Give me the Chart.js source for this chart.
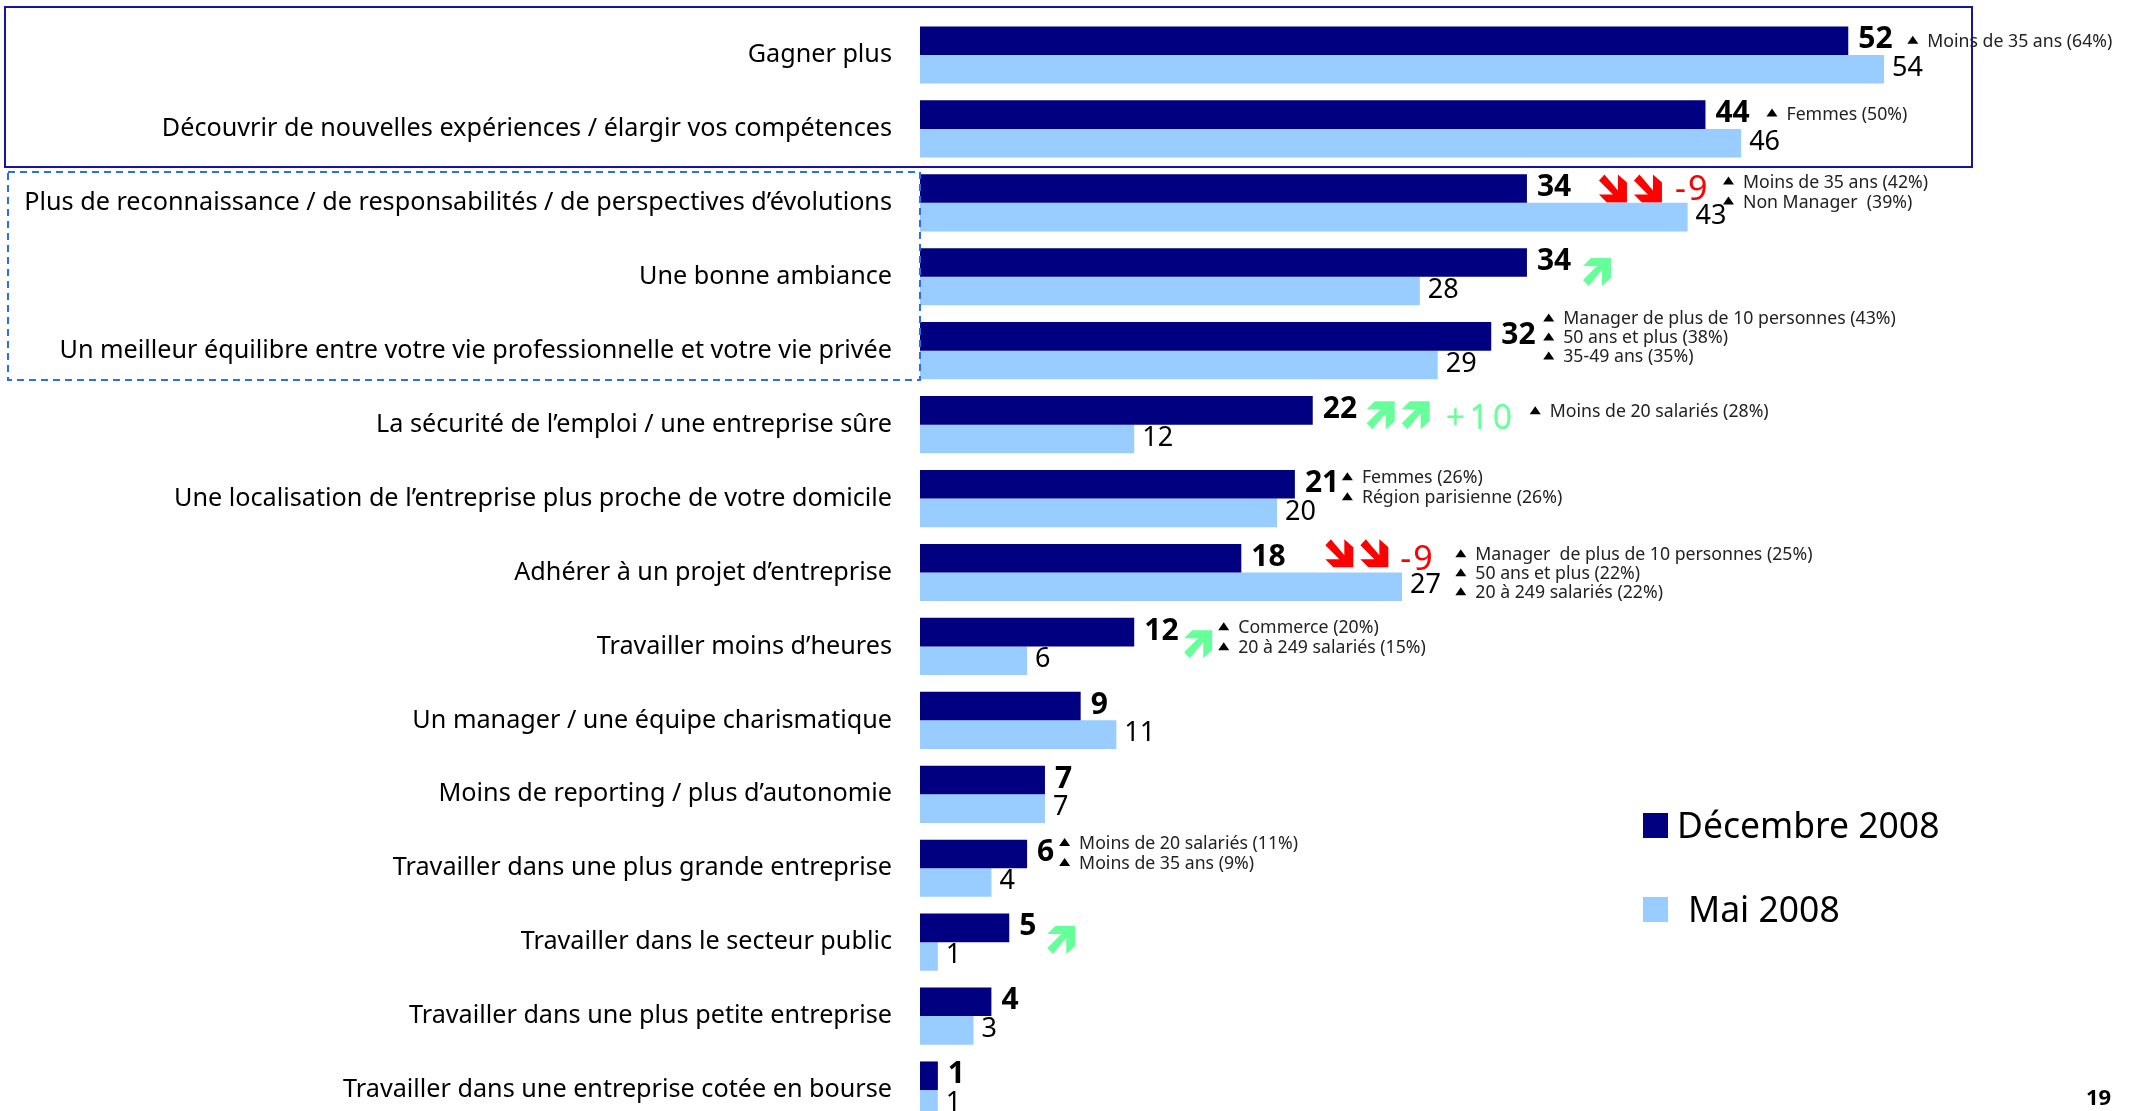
<!DOCTYPE html>
<html><head><meta charset="utf-8">
<style>html,body{margin:0;padding:0;background:#fff;overflow:hidden;width:2138px;height:1111px}
#w{position:relative;width:2138px;height:1111px;overflow:hidden}canvas{display:block}</style>
<script src="https://cdn.jsdelivr.net/npm/chart.js@4"></script></head>
<body><div id="w"><canvas id="c" width="2138" height="1127" style="width:2138px;height:1127px"></canvas></div>
<script>
const categories=["Gagner plus","Découvrir de nouvelles expériences / élargir vos compétences","Plus de reconnaissance / de responsabilités / de perspectives d’évolutions","Une bonne ambiance","Un meilleur équilibre entre votre vie professionnelle et votre vie privée","La sécurité de l’emploi / une entreprise sûre","Une localisation de l’entreprise plus proche de votre domicile","Adhérer à un projet d’entreprise","Travailler moins d’heures","Un manager / une équipe charismatique","Moins de reporting / plus d’autonomie","Travailler dans une plus grande entreprise","Travailler dans le secteur public","Travailler dans une plus petite entreprise","Travailler dans une entreprise cotée en bourse"];
const dec2008=[52,44,34,34,32,22,21,18,12,9,7,6,5,4,1];
const mai2008=[54,46,43,28,29,12,20,27,6,11,7,4,1,3,1];
const seriesNames=["Décembre 2008","Mai 2008"];
const noteRows=[0,1,2,4,5,6,7,8,11];
const noteTexts=[["Moins de 35 ans (64%)"],["Femmes (50%)"],["Moins de 35 ans (42%)","Non Manager  (39%)"],["Manager de plus de 10 personnes (43%)","50 ans et plus (38%)","35-49 ans (35%)"],["Moins de 20 salariés (28%)"],["Femmes (26%)","Région parisienne (26%)"],["Manager  de plus de 10 personnes (25%)","50 ans et plus (22%)","20 à 249 salariés (22%)"],["Commerce (20%)","20 à 249 salariés (15%)"],["Moins de 20 salariés (11%)","Moins de 35 ans (9%)"]];
const trendRows=[2,3,5,7,8,12];
const trendDirections=[-1,1,1,-1,1,1];
const trendCounts=[2,1,2,2,1,1];
const trendLabels=["-9","","+10","-9","",""];
const pageNumber="19";
// styling: offsets measured from the end of the navy bar / its centre line
const noteDx=[59,61,196,52,217,47,214,84,32],noteDy=[1,0,4,2,2,4,16,6,0];
const trendDx=[72,56,54,84,50,38],trendDy=[0,9.5,5,-5,12,12],trendLabelDx=[148,0,133,159,0,0];
const FONT='"Noto Sans"';
const NAVY='#000080',SKY='#99CCFF',GREEN='#66FF99',RED='#FF0000';
const ARROW=[[8,0],[28,0],[28,20],[19,28],[19,12],[5.5,28],[0,22],[14,8],[0,8]];
const overlay={id:'overlay',
 beforeDatasetsDraw(ch){
  const c=ch.ctx,m=ch.getDatasetMeta(0).data;
  c.save();
  trendRows.forEach((r,i)=>{
   const d=trendDirections[i],col=d>0?GREEN:RED;
   const x0=m[r].x+trendDx[i],yc=m[r].y+trendDy[i];
   c.fillStyle=col;
   for(let k=0;k<trendCounts[i];k++){
    const ox=x0+k*35,oy=yc-14;
    c.beginPath();
    ARROW.forEach((p,j)=>{const px=ox+p[0],py=oy+(d>0?p[1]:28-p[1]);j?c.lineTo(px,py):c.moveTo(px,py);});
    c.closePath();c.fill();
   }
  });
  c.restore();
 },
 afterDatasetsDraw(ch){
 const c=ch.ctx,m0=ch.getDatasetMeta(0).data,m1=ch.getDatasetMeta(1).data;
 c.save();
 c.strokeStyle='#1414A8';c.lineWidth=2;c.strokeRect(5,7,1967,160);
 c.strokeStyle='#2A6FF0';c.lineWidth=2;c.setLineDash([7,5]);c.strokeRect(8,172,912,208);c.setLineDash([]);
 c.textBaseline='middle';c.textAlign='left';
 m0.forEach((b,i)=>{c.fillStyle='#000';c.font='bold 30px '+FONT;c.fillText(dec2008[i],b.x+10,b.y-1);});
 m1.forEach((b,i)=>{c.fillStyle='#000';c.font='27px '+FONT;c.fillText(mai2008[i],b.x+8,b.y-1);});
 trendRows.forEach((r,i)=>{
  if(!trendLabels[i])return;
  const d=trendDirections[i];
  c.fillStyle=d>0?GREEN:RED;c.font='34px '+FONT;
  c.letterSpacing=d>0?'4px':'2px';
  c.fillText(trendLabels[i],m0[r].x+trendLabelDx[i],m0[r].y+(d>0?9:2));
  c.letterSpacing='0px';
 });
 c.font='17.7px '+FONT;
 noteRows.forEach((r,i)=>{
  const b=m0[r],lines=noteTexts[i],cy=b.y+noteDy[i],lx=b.x+noteDx[i];
  const pitch=lines.length===2?20:19;
  lines.forEach((t,k)=>{
   const ly=cy+(k-(lines.length-1)/2)*pitch;
   c.fillStyle='#000';c.beginPath();c.moveTo(lx,ly+2);c.lineTo(lx+11,ly+2);c.lineTo(lx+5.5,ly-6);c.closePath();c.fill();
   c.fillStyle='#222';c.fillText(t,lx+20,ly);
  });
 });
 c.fillStyle=NAVY;c.fillRect(1643,813,25,25);
 c.fillStyle=SKY;c.fillRect(1643,897,25,25);
 c.fillStyle='#000';c.font='35.5px '+FONT;
 c.fillText(seriesNames[0],1677,828);c.fillText(seriesNames[1],1688,912);
 c.font='bold 22px '+FONT;c.fillText(pageNumber,2086,1099);
 c.restore();
}};
new Chart(document.getElementById('c'),{type:'bar',plugins:[overlay],
 data:{labels:categories,datasets:[
  {label:seriesNames[0],data:dec2008,backgroundColor:NAVY},
  {label:seriesNames[1],data:mai2008,backgroundColor:SKY}]},
 options:{indexAxis:'y',responsive:false,animation:false,devicePixelRatio:1,
  layout:{padding:{left:0,right:0,top:18,bottom:0},autoPadding:false},
  plugins:{legend:{display:false},tooltip:{enabled:false},title:{display:false}},
  datasets:{bar:{categoryPercentage:0.773,barPercentage:1,borderWidth:0}},
  scales:{
   x:{min:0,max:68.23,display:false,grid:{display:false}},
   y:{afterFit(s){s.width=920;s.paddingTop=0;s.paddingBottom=0;},grid:{display:false,drawTicks:false},border:{display:false},
      ticks:{color:'#000',font:{family:FONT,size:25.2},padding:28,autoSkip:false}}
  }}});
</script></body></html>
